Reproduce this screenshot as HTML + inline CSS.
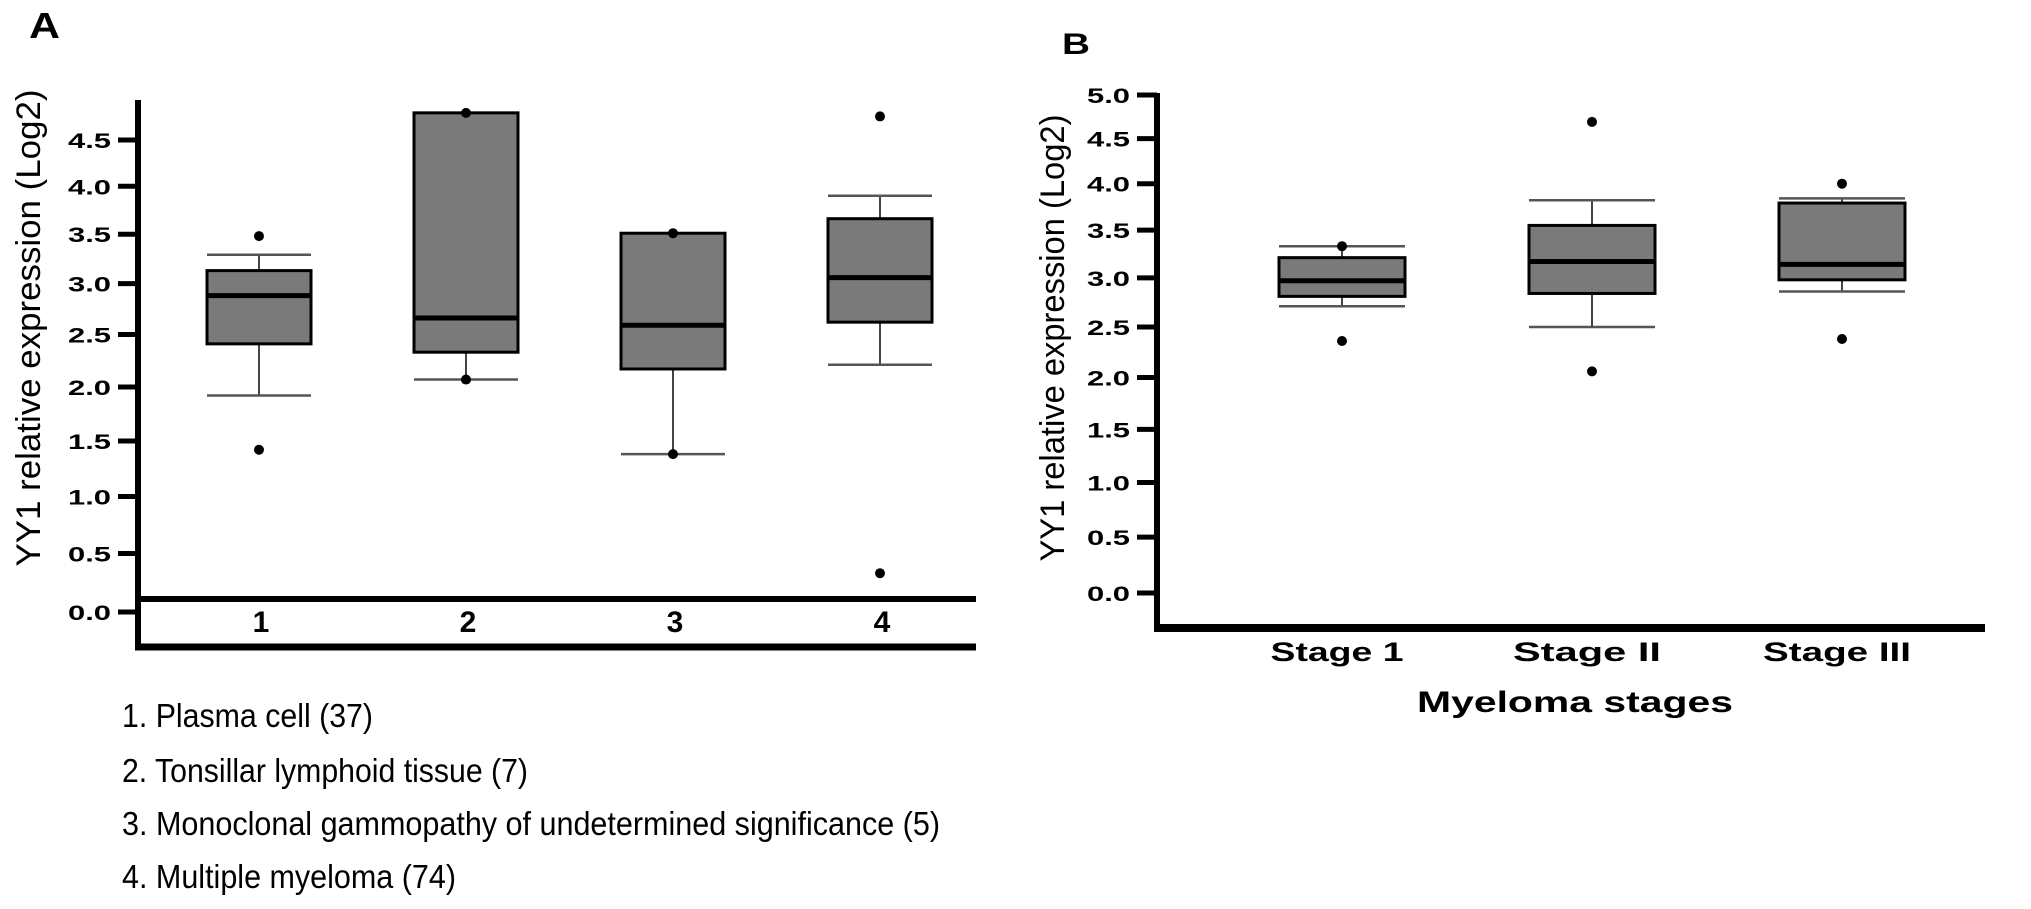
<!DOCTYPE html>
<html><head><meta charset="utf-8"><style>
html,body{margin:0;padding:0;background:#fff;}
svg{display:block;}
text{font-family:"Liberation Sans",Arial,sans-serif;}
</style></head><body>
<svg id="fig" width="2031" height="909" viewBox="0 0 2031 909" xmlns="http://www.w3.org/2000/svg">
<text x="29" y="38" font-size="36" font-weight="bold" textLength="31" lengthAdjust="spacingAndGlyphs">A</text>
<text x="1062" y="54" font-size="30" font-weight="bold" textLength="28" lengthAdjust="spacingAndGlyphs">B</text>
<g id="pa"></g>
<g id="pb"></g>
<g font-size="33">
<text x="122" y="727" textLength="251" lengthAdjust="spacingAndGlyphs">1. Plasma cell (37)</text>
<text x="122" y="782" textLength="406" lengthAdjust="spacingAndGlyphs">2. Tonsillar lymphoid tissue (7)</text>
<text x="122" y="835" textLength="818" lengthAdjust="spacingAndGlyphs">3. Monoclonal gammopathy of undetermined significance (5)</text>
<text x="122" y="888" textLength="334" lengthAdjust="spacingAndGlyphs">4. Multiple myeloma (74)</text>
</g>
</svg>
<script>
// Panel A data
const catsA = ["1","2","3","4"];
const whiskLowA = [1.92, 2.07, 1.38, 2.21];
const q1A = [2.41, 2.33, 2.17, 2.62];
const medA = [2.88, 2.66, 2.59, 3.06];
const q3A = [3.13, 4.8, 3.51, 3.66];
const whiskHighA = [3.29, 4.8, 3.51, 3.9];
const outliersA = [[3.48, 1.42], [4.8, 2.07], [3.51, 1.38], [4.76, 0.33]];
const ticksA = ["0.0","0.5","1.0","1.5","2.0","2.5","3.0","3.5","4.0","4.5"];
// Panel B data
const catsB = ["Stage 1","Stage  II","Stage III"];
const whiskLowB = [2.71, 2.5, 2.86];
const q1B = [2.81, 2.84, 2.98];
const medB = [2.97, 3.17, 3.14];
const q3B = [3.21, 3.55, 3.79];
const whiskHighB = [3.33, 3.82, 3.84];
const outliersB = [[3.33, 2.36], [4.69, 2.06], [4.0, 2.38]];
const ticksB = ["0.0","0.5","1.0","1.5","2.0","2.5","3.0","3.5","4.0","4.5","5.0"];

const NS = "http://www.w3.org/2000/svg";
function mk(tag, attrs, parent) {
  const e = document.createElementNS(NS, tag);
  for (const k in attrs) e.setAttribute(k, attrs[k]);
  parent.appendChild(e);
  return e;
}
const yA = v => 612 - 118.6 * v + 3.044 * v * v;
const yB = v => 593 - 113.2 * v + 2.72 * v * v;
const xA = i => 259 + i * 207;
const xB = i => 1342 + i * 250;

function drawPanel(g, o) {
  let ax = mk("line", {x1:o.axX, y1:o.axTop, x2:o.axX, y2:o.axBot, stroke:"#000", "stroke-width":6}, g);
  
  
  o.ticks.forEach(t => {
    const y = o.y(parseFloat(t));
    let tk = mk("line", {x1:o.axX-20, y1:y, x2:o.axX, y2:y, stroke:"#000", "stroke-width":5}, g);
    
    
    let tl = mk("text", {x:o.axX-70, y:y+8, "font-size":21, "font-weight":"bold", textLength:43, lengthAdjust:"spacingAndGlyphs"}, g);
    tl.textContent = t;
    
    
  });
  let tt = mk("text", {x:0, y:0, "font-size":34, "text-anchor":"middle", textLength:o.titleLen, lengthAdjust:"spacingAndGlyphs",
    transform:"translate(" + o.titleX + "," + o.titleY + ") rotate(-90)"}, g);
  tt.textContent = "YY1 relative expression (Log2)";
  
  
  o.cats.forEach((c, i) => {
    const cx = o.x(i), hw = o.hw;
    const bg = mk("g", {}, g);
    
    
    mk("line", {x1:cx, y1:o.y(o.wh[i]), x2:cx, y2:o.y(o.q3[i]), stroke:"#444", "stroke-width":2}, bg);
    mk("line", {x1:cx, y1:o.y(o.q1[i]), x2:cx, y2:o.y(o.wl[i]), stroke:"#444", "stroke-width":2}, bg);
    mk("line", {x1:cx-hw, y1:o.y(o.wh[i]), x2:cx+hw, y2:o.y(o.wh[i]), stroke:"#555", "stroke-width":2.5}, bg);
    mk("line", {x1:cx-hw, y1:o.y(o.wl[i]), x2:cx+hw, y2:o.y(o.wl[i]), stroke:"#555", "stroke-width":2.5}, bg);
    mk("rect", {x:cx-hw, y:o.y(o.q3[i]), width:2*hw, height:o.y(o.q1[i])-o.y(o.q3[i]), fill:"#7a7a7a", stroke:"#000", "stroke-width":3}, bg);
    mk("line", {x1:cx-hw, y1:o.y(o.med[i]), x2:cx+hw, y2:o.y(o.med[i]), stroke:"#000", "stroke-width":5}, bg);
    o.out[i].forEach(v => {
      let d = mk("circle", {cx:cx, cy:o.y(v), r:5, fill:"#000"}, g);
      
      
    });
    let lb = mk("text", {x:cx + o.lblDx, y:o.lblY, "font-size":o.lblSize, "font-weight":"bold", "text-anchor":"middle"}, g);
    if (o.lblLens) { lb.setAttribute("textLength", o.lblLens[i]); lb.setAttribute("lengthAdjust", "spacingAndGlyphs"); }
    lb.textContent = c;
    
    
  });
}

const pa = document.getElementById("pa");
drawPanel(pa, {p:"panel-a", axX:138, axTop:100, axBot:650, ticks:ticksA, y:yA, x:xA, hw:52,
  titleX:40, titleY:328, titleLen:477, cats:catsA, wl:whiskLowA, q1:q1A, med:medA, q3:q3A, wh:whiskHighA, out:outliersA,
  lblDx:2, lblY:632, lblSize:30});
let l1 = mk("line", {x1:138, y1:599, x2:976, y2:599, stroke:"#000", "stroke-width":6}, pa);


let l2 = mk("line", {x1:135, y1:647, x2:976, y2:647, stroke:"#000", "stroke-width":7}, pa);



const pb = document.getElementById("pb");
drawPanel(pb, {p:"panel-b", axX:1157, axTop:93, axBot:632, ticks:ticksB, y:yB, x:xB, hw:63,
  titleX:1064, titleY:338, titleLen:447, cats:catsB, wl:whiskLowB, q1:q1B, med:medB, q3:q3B, wh:whiskHighB, out:outliersB,
  lblDx:-5, lblY:661, lblSize:27, lblLens:[133,148,148]});
let l3 = mk("line", {x1:1154, y1:628, x2:1985, y2:628, stroke:"#000", "stroke-width":8}, pb);


let xt = mk("text", {x:1417, y:712, "font-size":30, "font-weight":"bold", textLength:316, lengthAdjust:"spacingAndGlyphs"}, pb);
xt.textContent = "Myeloma stages";


</script>
</body></html>
